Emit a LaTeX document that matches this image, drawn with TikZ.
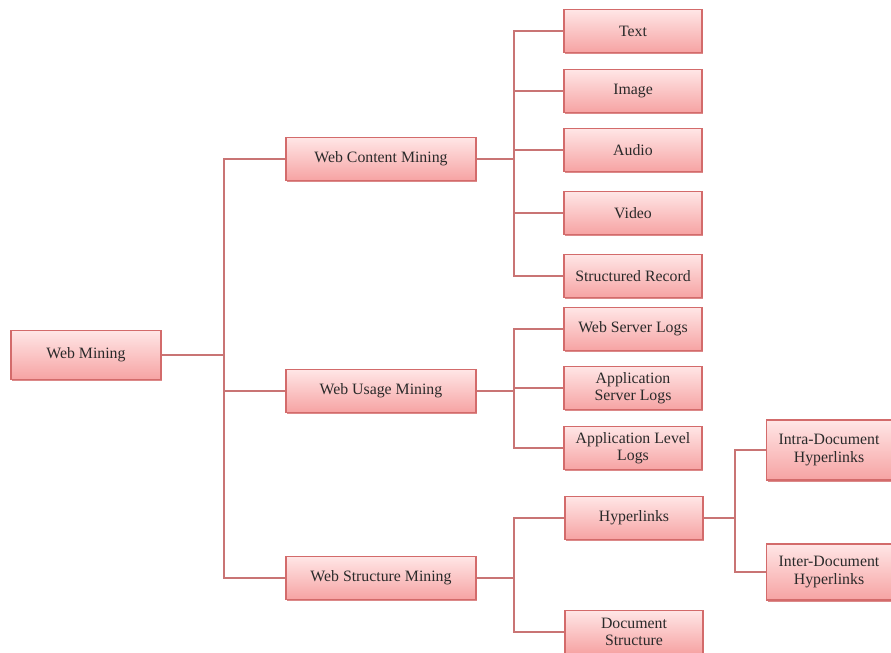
\documentclass[tikz,border=0pt]{standalone}
\usepackage{fontspec}
\setmainfont{Liberation Serif}
\usepackage{tikz}
\usetikzlibrary{shadows}
\definecolor{BoxTop}{HTML}{FFE6E6}
\definecolor{BoxBottom}{HTML}{F6A3A3}
\definecolor{BoxEdge}{HTML}{D36B6B}
\definecolor{LinkRed}{HTML}{C97474}
\definecolor{TextDark}{HTML}{2A2A2A}

\begin{document}
\begin{tikzpicture}[
  x=0.02cm, y=-0.02cm,
  box/.style={rectangle, draw=BoxEdge, line width=0.6pt, top color=BoxTop, bottom color=BoxBottom,
              minimum height=0.86cm, align=center, font=\fontsize{9}{10}\selectfont, text=TextDark,
              drop shadow={shadow xshift=0.6pt, shadow yshift=-0.9pt, fill=BoxEdge, opacity=0.8}},
  wide/.style={box, minimum width=3.8cm},
  leaf/.style={box, minimum width=2.76cm},
  link/.style={draw=LinkRed, line width=0.7pt}
]
\useasboundingbox (0,0) rectangle (891,652);

% levels 0 and 1
\node[box, minimum width=3cm, minimum height=0.98cm] (wm) at (86,355) {Web Mining};
\node[wide] (wcm) at (381,159) {Web Content Mining};
\node[wide] (wum) at (381,391) {Web Usage Mining};
\node[wide] (wsm) at (381,578) {Web Structure Mining};

% content leaves
\node[leaf] (text)  at (633,31)  {Text};
\node[leaf] (image) at (633,91)  {Image};
\node[leaf] (audio) at (633,150) {Audio};
\node[leaf] (video) at (633,213) {Video};
\node[leaf] (srec)  at (633,276) {Structured Record};

% usage leaves
\node[leaf] (wsl) at (633,329) {Web Server Logs};
\node[leaf] (asl) at (633,388) {Application\\Server Logs};
\node[leaf] (all) at (633,448) {Application Level\\Logs};

% structure leaves
\node[leaf] (hyp) at (634,518) {Hyperlinks};
\node[leaf] (dst) at (634,632) {Document\\Structure};
\node[box, minimum width=2.5cm, minimum height=1.2cm] (intra) at (829,450) {Intra-Document\\Hyperlinks};
\node[box, minimum width=2.5cm, minimum height=1.12cm] (inter) at (829,572) {Inter-Document\\Hyperlinks};

% bus points
\coordinate (trunk) at (224,355);
\coordinate (cbus)  at (514,159);
\coordinate (ubus)  at (514,391);
\coordinate (sbus)  at (514,578);
\coordinate (hbus)  at (735,518);

\draw[link] (wm) -- (trunk);
\foreach \n in {wcm,wum,wsm}
  \draw[link] (trunk) |- (\n.west);

\draw[link] (wcm) -- (cbus);
\foreach \n in {text,image,audio,video,srec}
  \draw[link] (cbus) |- (\n.west);

\draw[link] (wum) -- (ubus);
\foreach \n in {wsl,asl,all}
  \draw[link] (ubus) |- (\n.west);

\draw[link] (wsm) -- (sbus);
\foreach \n in {hyp,dst}
  \draw[link] (sbus) |- (\n.west);

\draw[link] (hyp) -- (hbus);
\foreach \n in {intra,inter}
  \draw[link] (hbus) |- (\n.west);

\end{tikzpicture}
\end{document}
